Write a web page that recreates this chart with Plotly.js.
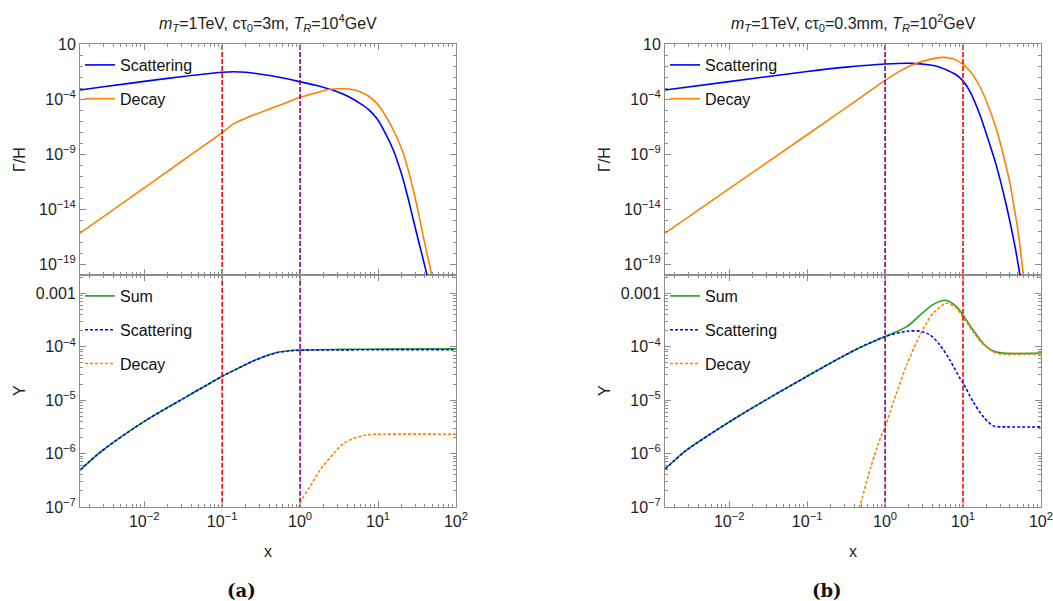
<!DOCTYPE html>
<html><head><meta charset="utf-8">
<script src="https://cdn.plot.ly/plotly-3.0.1.min.js"></script>
<style>body{margin:0;background:#fff;} #chart{width:1053px;height:601px;}</style>
</head><body><div id="chart"></div>
<script>
// ---------- Panel (a): Gamma/H ----------
const scatRateA_x = [0.0015,0.00316,0.01,0.0316,0.1,0.14,0.2,0.316,0.562,1,1.585,2.43,3.55,4.57,5.87,7.52,9.62,12.3,15.7,18.2,21.1,24.5,28.4,31.9,36.3,40.0,44.2,48.8];
const scatRateA_y = [6.6e-4,1.35e-3,3.98e-3,1.12e-2,2.69e-2,3.02e-2,2.69e-2,1.78e-2,8.9e-3,3.7e-3,1.78e-3,7.6e-4,2.8e-4,1.17e-4,4.0e-5,1.15e-5,1.74e-6,8.7e-8,2.3e-9,1.23e-10,4.4e-12,7.6e-14,1e-15,3.5e-17,9.3e-19,5.8e-20,3.5e-21,2.1e-22];
const decRateA_x = [0.0015,0.01,0.0316,0.1,0.14,0.2,0.374,0.63,1,1.585,2.43,3.16,4.17,5.0,5.87,7.52,9.62,12.3,15.7,18.2,21.1,24.5,28.4,32.9,38.1,42.1,46.4,50.2,55.3];
const decRateA_y = [6.3e-17,8.3e-13,2.7e-10,8.7e-8,5.4e-7,1.78e-6,1e-5,4e-5,1.41e-4,3.55e-4,7.6e-4,8.5e-4,8.1e-4,6.6e-4,4.6e-4,1.87e-4,4.0e-5,3.5e-6,1.52e-7,1.6e-8,1.15e-9,3.1e-11,5.4e-13,4.7e-15,3.1e-17,1.2e-18,5.8e-20,3.5e-21,1.1e-22];
// ---------- Panel (a): Y ----------
const sumYA_x = [0.0015,0.00275,0.01,0.0316,0.063,0.1,0.158,0.25,0.372,0.5,0.708,1,3.16,10,100];
const sumYA_y = [4.9e-7,1.07e-6,4.0e-6,1.07e-5,1.9e-5,2.8e-5,3.9e-5,5.4e-5,6.8e-5,7.8e-5,8.4e-5,8.7e-5,8.9e-5,9.0e-5,9.1e-5];
const scatYA_x = [0.0015,0.00275,0.01,0.0316,0.063,0.1,0.158,0.25,0.372,0.5,0.708,1,3.16,10,100];
const scatYA_y = [4.9e-7,1.07e-6,4.0e-6,1.07e-5,1.9e-5,2.8e-5,3.9e-5,5.4e-5,6.8e-5,7.7e-5,8.3e-5,8.6e-5,8.7e-5,8.8e-5,8.8e-5];
const decYA_x = [0.933,1.047,1.34,1.8,2.69,3.63,4.79,7.16,11.7,100];
const decYA_y = [7.9e-8,1.35e-7,2.4e-7,4.9e-7,1e-6,1.55e-6,1.9e-6,2.24e-6,2.3e-6,2.3e-6];
// ---------- Panel (b): Gamma/H ----------
const scatRateB_x = [0.0015,0.01,0.1,0.316,1,2.19,3.78,4.83,6.18,7.9,9.91,12.3,16.5,21.1,27.0,36.3,46.5,53.8,59.4];
const scatRateB_y = [6.6e-4,3.8e-3,3.2e-2,7.9e-2,0.151,0.174,0.123,8.7e-2,4.33e-2,1.87e-2,4.7e-3,4.7e-4,3.5e-6,1.9e-8,7.1e-11,1.6e-14,3.8e-18,1e-20,2.1e-22];
const decRateB_x = [0.0015,0.01,0.1,0.5,1,1.585,2.51,3.78,5.33,7.16,8.3,9.91,11.1,12.9,16.5,21.1,27.0,32.9,40.1,45.5,51.3,59.4,64.3];
const decRateB_y = [6.3e-17,7.1e-13,5.6e-8,1.58e-4,5e-3,3.8e-2,0.174,0.40,0.61,0.48,0.326,0.152,7.36e-2,2.2e-2,1.3e-3,2.3e-5,1.5e-7,8.1e-10,2.1e-12,1.1e-14,6.2e-17,1e-20,7.9e-23];
// ---------- Panel (b): Y ----------
const sumYB_x = [0.0015,0.00275,0.01,0.0316,0.1,0.265,0.5,1,1.9,2.81,4.17,5.9,8.3,10,13.5,18.2,24.5,33.1,100];
const sumYB_y = [5.1e-7,1.12e-6,3.9e-6,1.07e-5,2.8e-5,6.2e-5,1e-4,1.55e-4,2.37e-4,3.9e-4,6.2e-4,7.4e-4,5.6e-4,3.9e-4,2.04e-4,1.15e-4,8.3e-5,7.6e-5,7.6e-5];
const scatYB_x = [0.0015,0.00275,0.01,0.0316,0.1,0.265,0.5,1,1.9,2.81,3.78,5.07,6.8,9.1,10,13.5,18.2,24.5,36.3,100];
const scatYB_y = [5.1e-7,1.12e-6,3.9e-6,1.07e-5,2.8e-5,6.2e-5,1e-4,1.55e-4,1.95e-4,1.95e-4,1.66e-4,1.07e-4,5.6e-5,2.6e-5,2.1e-5,9.3e-6,4.9e-6,3.3e-6,3.16e-6,3.16e-6];
const decYB_x = [0.437,0.479,0.646,0.863,1,1.28,1.9,2.81,4.17,6.17,8.3,10,13.5,18.2,26.9,100];
const decYB_y = [7.9e-8,1.1e-7,5.2e-7,1.9e-6,3.16e-6,9.3e-6,4.6e-5,1.66e-4,4.3e-4,6.5e-4,5.2e-4,3.6e-4,1.9e-4,1.1e-4,7.6e-5,7.4e-5];
// ---------- reference lines ----------
const vlinesA = [0.1, 1];
const vlinesB = [1, 10];
// ---------- tick labels ----------
const xTickVals = [0.01, 0.1, 1, 10, 100];
const xTickText = ['10<sup>−2</sup>','10<sup>−1</sup>','10<sup>0</sup>','10<sup>1</sup>','10<sup>2</sup>'];
const rateTickVals = [10, 1e-4, 1e-9, 1e-14, 1e-19];
const rateTickText = ['10','10<sup>−4</sup>','10<sup>−9</sup>','10<sup>−14</sup>','10<sup>−19</sup>'];
const yieldTickVals = [1e-3, 1e-4, 1e-5, 1e-6, 1e-7];
const yieldTickText = ['0.001','10<sup>−4</sup>','10<sup>−5</sup>','10<sup>−6</sup>','10<sup>−7</sup>'];
const titleA = '<i>m</i><sub><i>T</i></sub>=1TeV, cτ<sub>0</sub>=3m, <i>T</i><sub><i>R</i></sub>=10<sup>4</sup>GeV';
const titleB = '<i>m</i><sub><i>T</i></sub>=1TeV, cτ<sub>0</sub>=0.3mm, <i>T</i><sub><i>R</i></sub>=10<sup>2</sup>GeV';

// ---------- styling ----------
const W = 1053, H = 601;
const BLUE = '#0000FF', ORANGE = '#FF8000', GREEN = '#22A022', RED = '#FF0000', PURPLE = '#800080';
const FRAME = '#8c8c8c';
const FONT = 'Liberation Sans, Arial, sans-serif';
const px = v => v / W, py = v => 1 - v / H;

function minorDecades(lo, hi) { const a = []; for (let e = lo; e <= hi; e++) a.push(Math.pow(10, e)); return a; }
function minorMultiples(lo, hi) { const a = []; for (let e = lo; e < hi; e++) for (let m = 2; m <= 9; m++) a.push(m * Math.pow(10, e)); return a; }

function xAxis(domain, anchor, labels) {
  return {
    type: 'log', domain: domain, anchor: anchor, range: [Math.log10(0.0015), 2.0005],
    tickmode: 'array', tickvals: xTickVals, ticktext: xTickText, showticklabels: labels,
    ticklabeloverflow: 'allow',
    ticks: 'inside', ticklen: 6, tickwidth: 1, tickcolor: FRAME,
    minor: { tickmode: 'array', tickvals: minorMultiples(-3, 2), ticks: 'inside', ticklen: 3, tickcolor: FRAME, tickwidth: 1 },
    showline: true, linecolor: FRAME, linewidth: 1, mirror: 'allticks',
    showgrid: false, zeroline: false,
    tickfont: { family: FONT, size: 16, color: '#222' }
  };
}
function yAxis(domain, anchor, range, tv, tt, minorVals) {
  return {
    type: 'log', domain: domain, anchor: anchor, range: range,
    tickmode: 'array', tickvals: tv, ticktext: tt,
    ticks: 'inside', ticklen: 6, tickwidth: 1, tickcolor: FRAME,
    minor: { tickmode: 'array', tickvals: minorVals, ticks: 'inside', ticklen: 3, tickcolor: FRAME, tickwidth: 1 },
    showline: true, linecolor: FRAME, linewidth: 1, mirror: 'allticks',
    showgrid: false, zeroline: false,
    tickfont: { family: FONT, size: 16, color: '#222' }
  };
}

const xL = [80 / W, 456 / W], xR = [665 / W, 1041 / W];
const yTop = [py(275), py(44)], yBot = [py(507), py(275)];
const rateRange = [-20, 1], yieldRange = [-7, Math.log10(2.2e-3)];

function line(x, y, xa, ya, color, name, dash, legend, group, show) {
  return { x: x, y: y, xaxis: xa, yaxis: ya, type: 'scatter', mode: 'lines', name: name,
    line: { color: color, width: 1.6, dash: dash || 'solid', shape: 'spline', smoothing: 0.8 },
    legend: legend, legendgroup: group, showlegend: show !== false, hoverinfo: 'skip' };
}
function vline(v, xa, ya, color) {
  return { x: [v, v], y: [1e-25, 1e5], xaxis: xa, yaxis: ya, type: 'scatter', mode: 'lines',
    line: { color: color, width: 1.6, dash: '5px,2px' }, showlegend: false, hoverinfo: 'skip' };
}
const DOT = '3px,2px';

const traces = [
  line(scatRateA_x, scatRateA_y, 'x2', 'y', BLUE, 'Scattering', null, 'legend', 'a1'),
  line(decRateA_x, decRateA_y, 'x2', 'y', ORANGE, 'Decay', null, 'legend', 'a2'),
  vline(vlinesA[0], 'x2', 'y', RED), vline(vlinesA[1], 'x2', 'y', PURPLE),
  line(sumYA_x, sumYA_y, 'x', 'y2', GREEN, 'Sum', null, 'legend2', 'b1'),
  line(scatYA_x, scatYA_y, 'x', 'y2', BLUE, 'Scattering', DOT, 'legend2', 'b2'),
  line(decYA_x, decYA_y, 'x', 'y2', ORANGE, 'Decay', DOT, 'legend2', 'b3'),
  vline(vlinesA[0], 'x', 'y2', RED), vline(vlinesA[1], 'x', 'y2', PURPLE),
  line(scatRateB_x, scatRateB_y, 'x4', 'y3', BLUE, 'Scattering', null, 'legend3', 'c1'),
  line(decRateB_x, decRateB_y, 'x4', 'y3', ORANGE, 'Decay', null, 'legend3', 'c2'),
  vline(vlinesB[0], 'x4', 'y3', PURPLE), vline(vlinesB[1], 'x4', 'y3', RED),
  line(sumYB_x, sumYB_y, 'x3', 'y4', GREEN, 'Sum', null, 'legend4', 'd1'),
  line(scatYB_x, scatYB_y, 'x3', 'y4', BLUE, 'Scattering', DOT, 'legend4', 'd2'),
  line(decYB_x, decYB_y, 'x3', 'y4', ORANGE, 'Decay', DOT, 'legend4', 'd3'),
  vline(vlinesB[0], 'x3', 'y4', PURPLE), vline(vlinesB[1], 'x3', 'y4', RED)
];

function legendAt(xPix, yPix) {
  return { x: px(xPix), y: py(yPix), xanchor: 'left', yanchor: 'top', bgcolor: 'rgba(0,0,0,0)',
    borderwidth: 0, font: { family: FONT, size: 16, color: '#111' }, traceorder: 'grouped', tracegroupgap: 10 };
}

const rateMinor = minorDecades(-20, 1);
const yieldMinor = minorMultiples(-7, -2);

const ann = (text, x, y, opts) => Object.assign({ text: text, x: x, y: y, xref: 'paper', yref: 'paper',
  showarrow: false, xanchor: 'center', yanchor: 'middle', font: { family: FONT, size: 16, color: '#222' } }, opts || {});

const layout = {
  width: W, height: H, margin: { l: 0, r: 0, t: 0, b: 0 },
  paper_bgcolor: '#fff', plot_bgcolor: '#fff', showlegend: true,
  xaxis: xAxis(xL, 'y2', true),
  xaxis2: xAxis(xL, 'y', false),
  xaxis3: xAxis(xR, 'y4', true),
  xaxis4: xAxis(xR, 'y3', false),
  yaxis: yAxis(yTop, 'x2', rateRange, rateTickVals, rateTickText, rateMinor),
  yaxis2: yAxis(yBot, 'x', yieldRange, yieldTickVals, yieldTickText, yieldMinor),
  yaxis3: yAxis(yTop, 'x4', rateRange, rateTickVals, rateTickText, rateMinor),
  yaxis4: yAxis(yBot, 'x3', yieldRange, yieldTickVals, yieldTickText, yieldMinor),
  legend: legendAt(80, 48),
  legend2: legendAt(80, 279),
  legend3: legendAt(665, 48),
  legend4: legendAt(665, 279),
  annotations: [
    ann(titleA, px(268), py(23)),
    ann(titleB, px(853), py(23)),
    ann('Γ/H', px(19), py(160), { textangle: -90 }),
    ann('Y', px(19), py(391), { textangle: -90 }),
    ann('Γ/H', px(604), py(160), { textangle: -90 }),
    ann('Y', px(604), py(391), { textangle: -90 }),
    ann('x', px(268), py(551)),
    ann('x', px(853), py(551)),
    ann('<b>(a)</b>', px(241), py(590), { font: { family: 'DejaVu Serif, Liberation Serif, serif', size: 18, color: '#111' } }),
    ann('<b>(b)</b>', px(827), py(590), { font: { family: 'DejaVu Serif, Liberation Serif, serif', size: 18, color: '#111' } })
  ]
};

Plotly.newPlot('chart', traces, layout, { staticPlot: true, displayModeBar: false });
</script></body></html>
